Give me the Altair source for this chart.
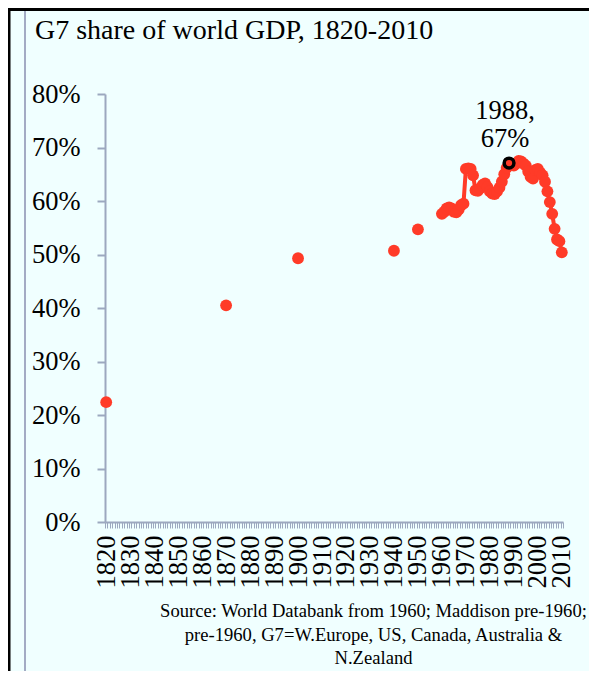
import altair as alt
import pandas as pd

# ---- data ----
years_early = [1820, 1870, 1900, 1940, 1950]
share_early = [22.4, 40.5, 49.3, 50.7, 54.7]

years_annual = list(range(1960, 2011))
share_annual = [
    57.6, 58.0, 58.6, 58.8, 58.6, 58.0, 57.9, 58.4, 59.2, 59.5,   # 1960s
    66.0, 66.1, 66.0, 64.8, 62.0, 61.9, 62.4, 63.0, 63.3, 62.6,   # 1970s
    61.8, 61.4, 61.3, 61.8, 62.5, 63.6, 65.0, 66.2, 67.1, 66.8,   # 1980s
    66.6, 67.0, 67.5, 67.4, 67.0, 66.6, 65.5, 64.5, 64.2, 65.8,   # 1990s
    66.0, 65.3, 64.8, 63.6, 61.8, 59.8, 57.6, 54.8, 52.8, 52.5, 50.4,  # 2000s
]
highlight_year = 1988

category_years = list(range(1820, 2011))
y_tick_values = [0.0, 0.1, 0.2, 0.3, 0.4, 0.5, 0.6, 0.7, 0.8]

title_text = "G7 share of world GDP, 1820-2010"
source_lines = [
    "Source: World Databank from 1960; Maddison pre-1960;",
    "pre-1960, G7=W.Europe, US, Canada, Australia &",
    "N.Zealand",
]

df = pd.DataFrame({
    "year": years_early + years_annual,
    "share": [v / 100 for v in share_early + share_annual],
    "series": ["early"] * len(years_early) + ["annual"] * len(years_annual),
})

RED = "#FF3B28"
AXIS_GRAY = "#9CA8BF"
FONT = "Liberation Serif"
BG = "#F0FFFF"

x_enc = alt.X(
    "year:O",
    scale=alt.Scale(type="band", domain=category_years, paddingInner=0, paddingOuter=0),
    axis=alt.Axis(
        title=None,
        labelExpr="datum.value % 10 == 0 ? datum.label : ''",
        tickBand="extent",
        labelAngle=270,
        labelFont=FONT,
        labelFontSize=26.5,
        labelColor="black",
        labelPadding=7,
        labelOverlap=False,
        tickSize=6,
        tickWidth=1,
        tickColor=AXIS_GRAY,
        domainColor=AXIS_GRAY,
        domainWidth=2,
        grid=False,
    ),
)
y_enc = alt.Y(
    "share:Q",
    scale=alt.Scale(domain=[0, 0.8], nice=False),
    axis=alt.Axis(
        title=None,
        values=y_tick_values,
        format=".0%",
        labelFont=FONT,
        labelFontSize=26.5,
        labelColor="black",
        labelPadding=17,
        tickSize=8,
        tickWidth=2,
        tickColor=AXIS_GRAY,
        domainColor=AXIS_GRAY,
        domainWidth=2,
        grid=False,
    ),
)

base = alt.Chart(df).encode(x=x_enc, y=y_enc)

line = base.transform_filter("datum.series == 'annual'").mark_line(color=RED, strokeWidth=4)
dots = base.mark_circle(color=RED, size=140, opacity=1)
highlight = base.transform_filter(f"datum.year == {highlight_year}").mark_point(
    shape="circle", fill=RED, fillOpacity=1, stroke="black", strokeOpacity=1,
    strokeWidth=3.5, size=95,
)
ann = base.transform_filter(f"datum.year == {highlight_year}").transform_calculate(
    l1="toString(datum.year) + ','",
    l2="format(datum.share, '.0%')",
)
ann1 = ann.mark_text(font=FONT, fontSize=26.5, color="black", align="center",
                     baseline="alphabetic", dx=-4, dy=-44).encode(text="l1:N")
ann2 = ann.mark_text(font=FONT, fontSize=26.5, color="black", align="center",
                     baseline="alphabetic", dx=-4, dy=-16).encode(text="l2:N")

one = pd.DataFrame({"k": [0]})
title = alt.Chart(pd.DataFrame({"t": [title_text]})).mark_text(
    font=FONT, fontSize=28, color="black", align="left", baseline="alphabetic"
).encode(text="t:N", x=alt.value(-70), y=alt.value(-54.7))

src = alt.Chart(pd.DataFrame({"t": source_lines, "i": [0, 1, 2]})).transform_calculate(
    yy="523.3 + datum.i * 23.5"
).mark_text(
    font=FONT, fontSize=18.6, color="black", align="center", baseline="alphabetic"
).encode(text="t:N", x=alt.value(268.5), y=alt.Y("yy:Q", scale=None))

frame_left = alt.Chart(one).mark_rule(color="black", strokeWidth=3).encode(
    x=alt.value(-96), y=alt.value(-86), y2=alt.value(577))
frame_top = alt.Chart(one).mark_rule(color="black", strokeWidth=3).encode(
    x=alt.value(-97), x2=alt.value(484), y=alt.value(-84.5))
frame_gray = alt.Chart(one).mark_rule(color="#A3ABC4", strokeWidth=2).encode(
    x=alt.value(-80), y=alt.value(-83), y2=alt.value(577))

chart = alt.layer(
    frame_left, frame_top, frame_gray, title, src,
    line, dots, highlight, ann1, ann2,
).properties(
    width=458,
    height=428,
    padding={"left": 97, "top": 86, "right": 26, "bottom": 149},
    autosize=alt.AutoSizeParams(type="none"),
).configure(background=BG).configure_view(stroke=None)

chart.save("out.html", embed_options={"renderer": "svg", "actions": False})
